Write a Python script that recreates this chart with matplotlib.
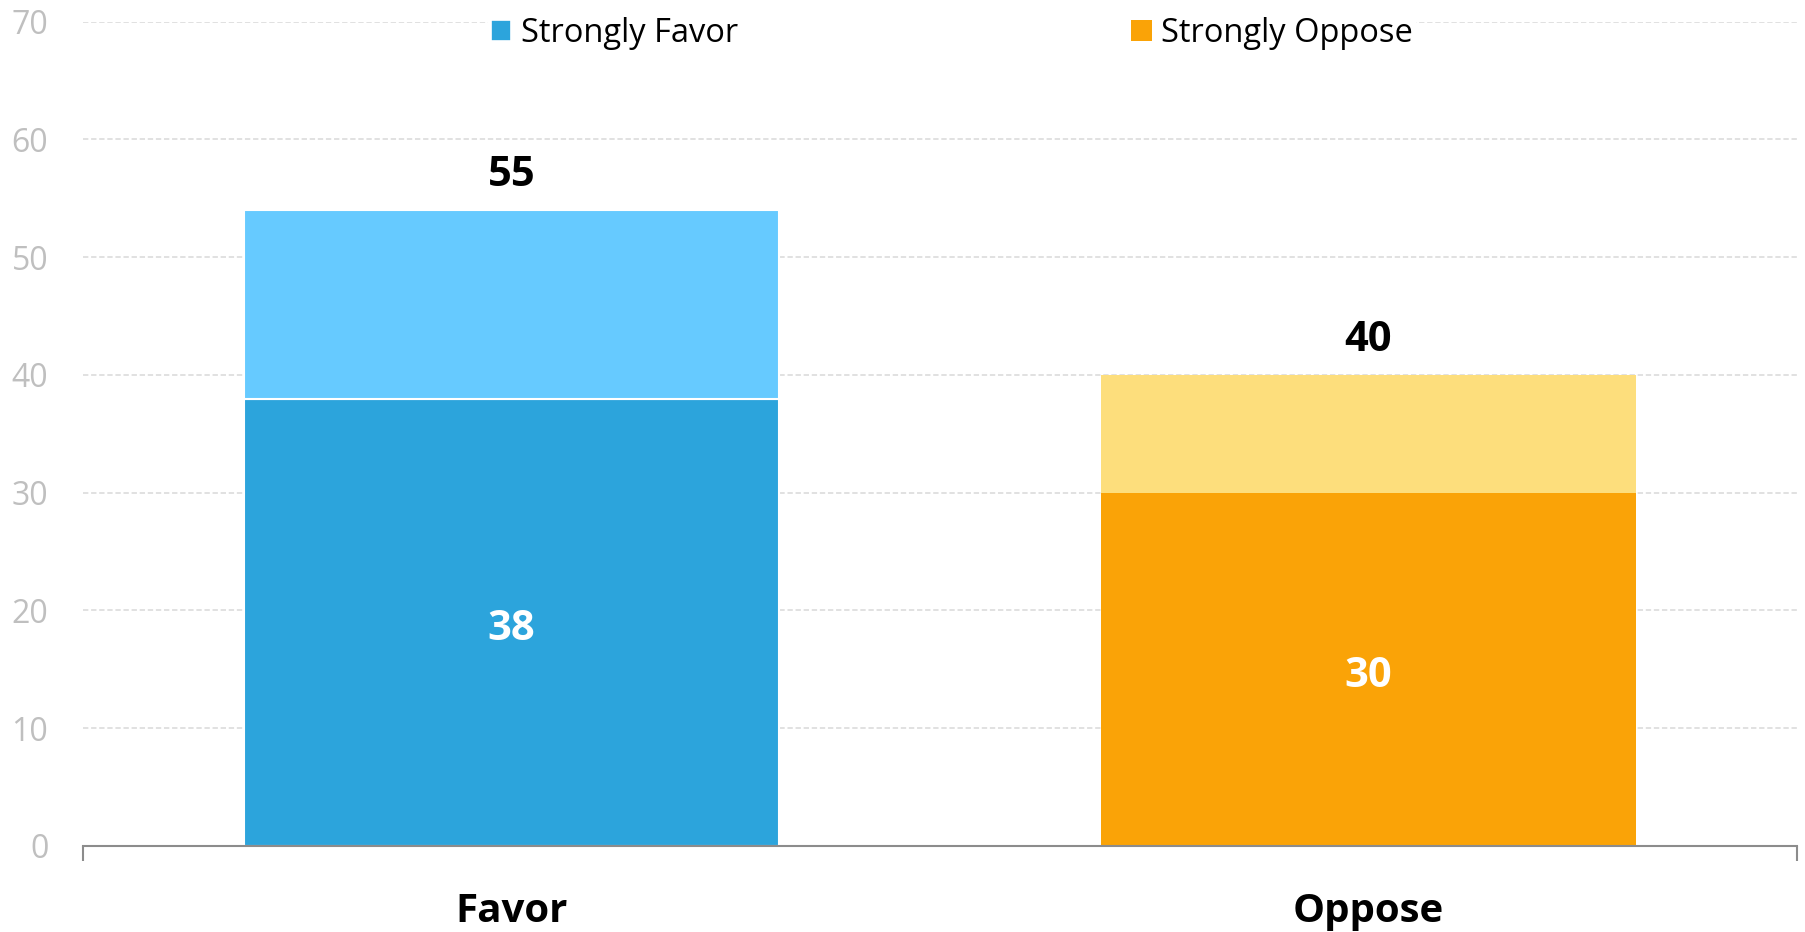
import matplotlib
matplotlib.use("Agg")
import matplotlib.pyplot as plt
from matplotlib.patches import Patch

categories = ["Favor", "Oppose"]
strong_values = [38, 30]
other_values = [16, 10]
total_labels = [55, 40]
legend_labels = ["Strongly Favor", "Strongly Oppose"]
y_ticks = [0, 10, 20, 30, 40, 50, 60, 70]

strong_colors = ["#2CA4DC", "#FAA307"]
light_colors = ["#66CAFF", "#FDDE7C"]
edge_colors = ["white", "none"]

plt.rcParams['font.family'] = ['Open Sans', 'DejaVu Sans']

fig = plt.figure(figsize=(18.06, 9.32), dpi=100)
ax = fig.add_axes([83/1806, 1 - 846/932, (1797-83)/1806, (846-21.7)/932])

x = list(range(len(categories)))
width = 0.625
for i in x:
    ax.bar(i, strong_values[i], width=width, color=strong_colors[i],
           edgecolor=edge_colors[i], linewidth=1.5, zorder=3)
    ax.bar(i, other_values[i], width=width, bottom=strong_values[i],
           color=light_colors[i], edgecolor=edge_colors[i], linewidth=1.5, zorder=3)
    ax.annotate(str(strong_values[i]), xy=(i, strong_values[i] / 2),
                xytext=(0, -5), textcoords='offset points', ha='center', va='center',
                color='white', fontsize=30, fontweight='bold', zorder=4)
    ax.annotate(str(total_labels[i]), xy=(i, strong_values[i] + other_values[i]),
                xytext=(0, 25), textcoords='offset points', ha='center', va='center',
                fontsize=30, fontweight='bold', color='black', zorder=4)

ax.set_xlim(-0.5, 1.5)
ax.set_ylim(0, 70)
ax.set_yticks(y_ticks)
ax.set_yticklabels([str(v) for v in y_ticks], fontsize=23, color='#BFBFBF')
ax.tick_params(axis='y', length=0, pad=25)
for v in y_ticks[1:]:
    ax.axhline(v, color='#D9D9D9', linewidth=1.1, linestyle=(0, (3.5, 1.8)), zorder=1)

ax.set_xticks(x)
ax.set_xticklabels(categories, fontsize=29, fontweight='bold', color='black')
ax.tick_params(axis='x', which='major', length=0, pad=33)
ax.set_xticks([-0.5, 1.5], minor=True)
ax.tick_params(axis='x', which='minor', length=11, width=1.5, color='#8C8C8C', direction='out')

for s in ['top', 'right', 'left']:
    ax.spines[s].set_visible(False)
ax.spines['bottom'].set_color('#8C8C8C')
ax.spines['bottom'].set_linewidth(1.5)
ax.spines['bottom'].set_zorder(5)

handles = [Patch(facecolor=strong_colors[0], edgecolor='white', linewidth=1.2),
           Patch(facecolor=strong_colors[1], edgecolor='none')]
leg = ax.legend(handles, legend_labels, loc='center', bbox_to_anchor=(0.507, 1 - 11.5/826),
                ncol=2, frameon=True, fancybox=False, facecolor='white', edgecolor='none',
                framealpha=1, fontsize=23.5, handlelength=0.62, handleheight=0.62,
                handletextpad=0.3, columnspacing=12.05, borderpad=0.1)
leg.set_zorder(6)

fig.savefig("out.png", dpi=100)
